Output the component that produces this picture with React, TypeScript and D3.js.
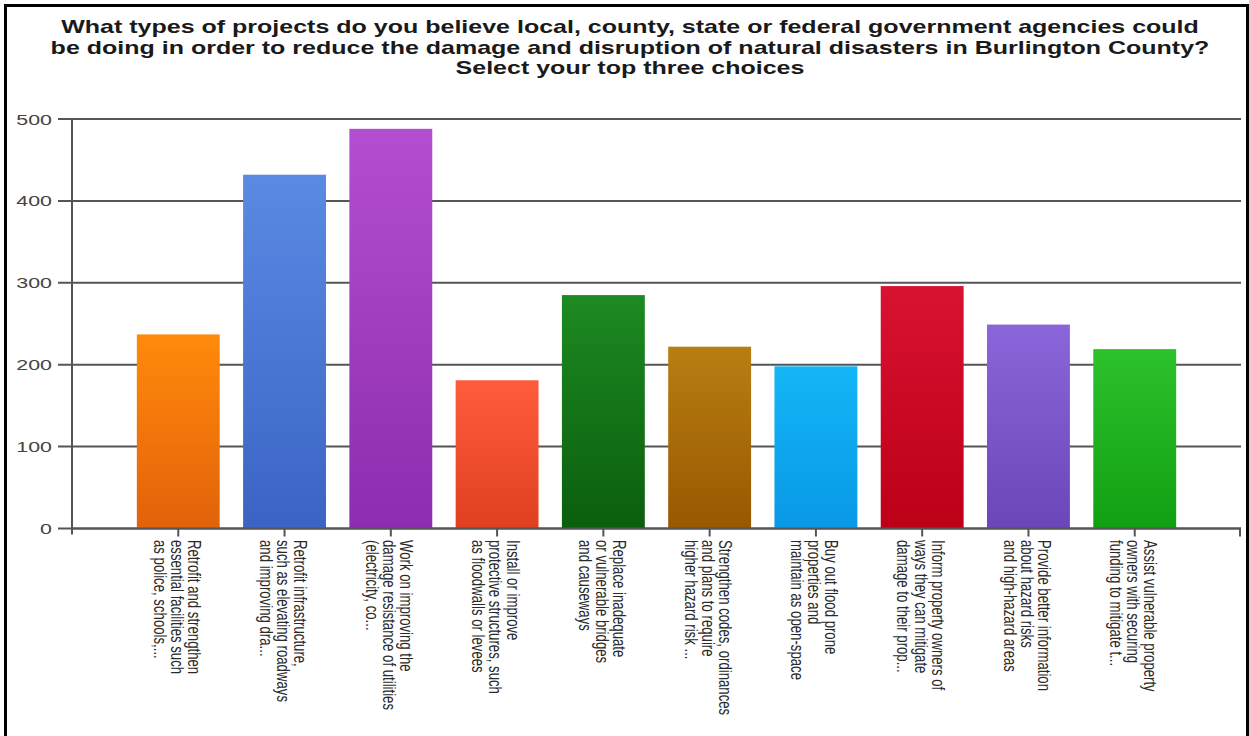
import React from "react";
import * as d3 from "d3";

const titleLines = [
  "What types of projects do you believe local, county, state or federal government agencies could",
  "be doing in order to reduce the damage and disruption of natural disasters in Burlington County?",
  "Select your top three choices",
];

const categories = [
  ["Retrofit and strengthen", "essential facilities such", "as police, schools,..."],
  ["Retrofit infrastructure,", "such as elevating roadways", "and improving dra..."],
  ["Work on improving the", "damage resistance of utilities", "(electricity, co..."],
  ["Install or improve", "protective structures, such", "as floodwalls or levees"],
  ["Replace inadequate", "or vulnerable bridges", "and causeways"],
  ["Strengthen codes, ordinances", "and plans to require", "higher hazard risk ..."],
  ["Buy out flood prone", "properties and", "maintain as open-space"],
  ["Inform property owners of", "ways they can mitigate", "damage to their prop..."],
  ["Provide better information", "about hazard risks", "and high-hazard areas"],
  ["Assist vulnerable property", "owners with securing", "funding to mitigate t..."],
];

const values = [237, 432, 488, 181, 285, 222, 198, 296, 249, 219];

const barTopColors = ["#ff8a0a", "#5a8ae4", "#b44ed0", "#ff5c3c", "#1d8a22", "#b87e12", "#14b6f6", "#d81232", "#8a66da", "#2cc22c"];
const barBottomColors = ["#e2620a", "#3a64c4", "#8c2cae", "#e04020", "#0b5e0d", "#985800", "#0898e6", "#bc0016", "#6a46b8", "#12a012"];

const yTicks = [0, 100, 200, 300, 400, 500];

const W = 1249;
const H = 736;
const left = 72;
const right = 1241;
const top = 119;
const bottom = 528.5;
const SX = 1.38; // horizontal stretch of the source picture
const TSX = 1.43;

export default function App() {
  const ids = categories.map((_, i) => String(i));
  const x = d3.scalePoint<string>().domain(ids).range([left, right]).padding(1);
  const y = d3.scaleLinear().domain([0, 500]).range([bottom, top]);
  const bw = x.step() * 0.78;

  return (
    <svg
      width={W}
      height={H}
      style={{ position: "absolute", left: 0, top: 0, background: "#fff" }}
      fontFamily="Arial, 'Liberation Sans', sans-serif"
    >
      <defs>
        {values.map((_, i) => (
          <linearGradient key={i} id={`g${i}`} x1="0" y1="0" x2="0" y2="1">
            <stop offset="0%" stopColor={barTopColors[i]} />
            <stop offset="100%" stopColor={barBottomColors[i]} />
          </linearGradient>
        ))}
      </defs>
      <rect x={0} y={0} width={W} height={H} fill="#fff" />
      {/* frame */}
      <rect x={4} y={4} width={3} height={H} fill="#000" />
      <rect x={4} y={4} width={W} height={3} fill="#000" />
      <rect x={W - 3} y={4} width={3} height={H} fill="#000" />

      {titleLines.map((t, i) => (
        <g key={i} transform={`translate(630,${33 + i * 20.5}) scale(${TSX},1)`}>
          <text x={0} y={0} textAnchor="middle" fontSize={17.5} fontWeight="bold" fill="#1a1a1a">
            {t}
          </text>
        </g>
      ))}

      {/* gridlines */}
      {yTicks.map((t) => (
        <g key={t}>
          <line x1={58} x2={right} y1={y(t)} y2={y(t)} stroke="#555" strokeWidth={2} />
          <g transform={`translate(52,${y(t) + 5.5}) scale(${SX},1)`}>
            <text x={0} y={0} textAnchor="end" fontSize={15.5} fill="#444">
              {t}
            </text>
          </g>
        </g>
      ))}

      {/* bars */}
      {values.map((v, i) => (
        <rect
          key={i}
          x={(x(String(i)) as number) - bw / 2}
          y={y(v)}
          width={bw}
          height={y(0) - y(v)}
          fill={`url(#g${i})`}
        />
      ))}

      {/* axes */}
      <line x1={left} x2={left} y1={top} y2={bottom + 6} stroke="#555" strokeWidth={2} />
      <line x1={left} x2={right} y1={bottom} y2={bottom} stroke="#555" strokeWidth={2} />
      {ids.map((id) => (
        <line key={id} x1={x(id)} x2={x(id)} y1={bottom} y2={bottom + 8} stroke="#555" strokeWidth={2} />
      ))}
      <line x1={right - 1} x2={right - 1} y1={bottom} y2={bottom + 8} stroke="#555" strokeWidth={2} />

      {/* x labels */}
      {categories.map((lines, i) => {
        const cx = x(String(i)) as number;
        return (
          <g key={i} transform={`translate(${cx},${540}) scale(${SX},1) rotate(90)`}>
            {lines.map((l, j) => (
              <text key={j} x={0} y={-6.9 + 12.4 * j} fontSize={13.2} fill="#2a2a2a">
                {l}
              </text>
            ))}
          </g>
        );
      })}
    </svg>
  );
}
